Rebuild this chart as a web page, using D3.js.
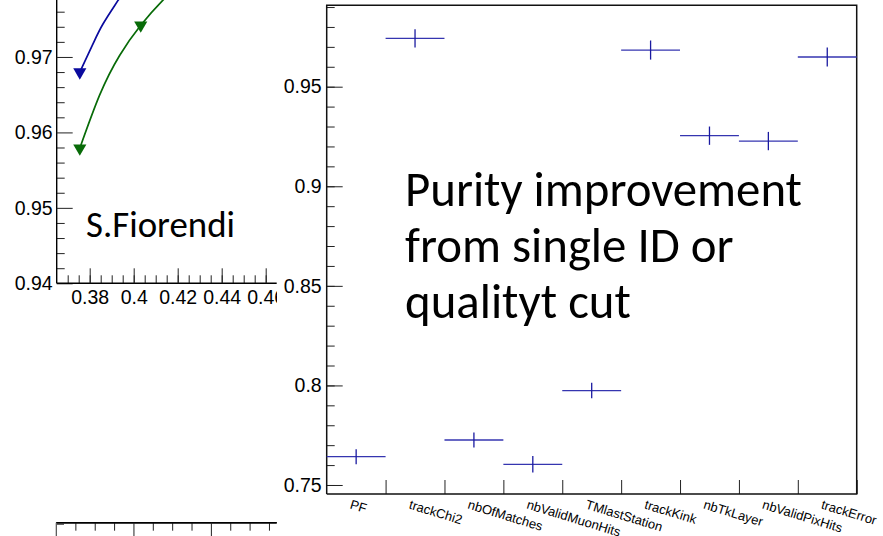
<!DOCTYPE html>
<html><head><meta charset="utf-8">
<script src="https://cdn.jsdelivr.net/npm/d3@7/dist/d3.min.js"></script>
<style>
html,body{margin:0;padding:0;background:#fff;}
svg{display:block;}
</style></head>
<body>
<svg id="c" width="883" height="536"></svg>
<script>
// ---------- data ----------
const categories = ["PF","trackChi2","nbOfMatches","nbValidMuonHits","TMlastStation","trackKink","nbTkLayer","nbValidPixHits","trackError"];
const purity = [0.7642,0.9743,0.7726,0.7604,0.7974,0.9684,0.9254,0.9227,0.9649];
const purityErr = [0.0038,0.0046,0.0038,0.0041,0.0039,0.0048,0.0046,0.0046,0.0048];
const rightYTicks = [0.75,0.8,0.85,0.9,0.95];
const rightYMinor = [0.75,0.76,0.77,0.78,0.79,0.8,0.81,0.82,0.83,0.84,0.85,0.86,0.87,0.88,0.89,0.9,0.91,0.92,0.93,0.94,0.95,0.96,0.97,0.98,0.99];

const blueCurveX = [0.3755,0.3816,0.3861,0.3929,0.3997];
const blueCurveY = [0.9680,0.9718,0.9744,0.9775,0.9806];
const greenCurveX = [0.3755,0.3846,0.3936,0.4032,0.4132,0.4232];
const greenCurveY = [0.9579,0.9650,0.9702,0.9742,0.9775,0.9803];
const blueMarkerX = [0.3755];
const blueMarkerY = [0.9680];
const greenMarkerX = [0.3755,0.4032];
const greenMarkerY = [0.9579,0.9742];
const leftXTicks = [0.38,0.40,0.42,0.44,0.46];
const leftXTickLabels = ["0.38","0.4","0.42","0.44","0.46"];
const leftXMinor = [0.37,0.375,0.38,0.385,0.39,0.395,0.40,0.405,0.41,0.415,0.42,0.425,0.43,0.435,0.44,0.445,0.45,0.455,0.46];
const leftYTicks = [0.94,0.95,0.96,0.97];
const leftYTickLabels = ["0.94","0.95","0.96","0.97"];
const leftYMinor = [0.942,0.944,0.946,0.948,0.952,0.954,0.956,0.958,0.962,0.964,0.966,0.968,0.972,0.974,0.976];
const lowerXMajor = [0.36,0.38,0.40];
const lowerXMinor = [0.365,0.37,0.375,0.385,0.39,0.395,0.405,0.41,0.415];

const annotation = ["Purity improvement","from single ID or","qualityt cut"];
const author = "S.Fiorendi";

// ---------- drawing ----------
const svg = d3.select("#c");
svg.append("rect").attr("width",883).attr("height",536).attr("fill","#fff");
const axisFont = "'Liberation Sans', Arial, Helvetica, sans-serif";
const bigFont = "Carlito, Lato, 'Open Sans', sans-serif";

// ===== left panel =====
const xL = d3.scaleLinear().domain([0.365,0.465]).range([56.7,276.7]);
const yL = d3.scaleLinear().domain([0.94,0.97755]).range([283.3,0]);
const gL = svg.append("g");
svg.append("defs").append("clipPath").attr("id","clipL")
  .append("rect").attr("x",56.7).attr("y",0).attr("width",220).attr("height",283.3);

const yMinorAx = gL.append("g").attr("transform","translate(56.7,0)")
  .call(d3.axisLeft(yL).tickValues(leftYMinor).tickSize(-8).tickFormat(""));
const yMajAx = gL.append("g").attr("transform","translate(56.7,0)")
  .call(d3.axisLeft(yL).tickValues(leftYTicks).tickSize(-16).tickPadding(4)
        .tickFormat((d,i)=>leftYTickLabels[i]));
const xMinorAx = gL.append("g").attr("transform","translate(0,283.3)")
  .call(d3.axisBottom(xL).tickValues(leftXMinor).tickSize(-8).tickFormat(""));
const xMajAx = gL.append("g").attr("transform","translate(0,283.3)")
  .call(d3.axisBottom(xL).tickValues(leftXTicks).tickSize(-15).tickPadding(7)
        .tickFormat((d,i)=>leftXTickLabels[i]));
[yMinorAx,yMajAx,xMinorAx,xMajAx].forEach(a=>{
  a.select(".domain").attr("stroke","#000").attr("stroke-width",1.4);
  a.selectAll(".tick line").attr("stroke","#222").attr("stroke-width",1);
  a.selectAll("text").attr("font-family",axisFont).attr("font-size",19.5).attr("fill","#000");
});
yMinorAx.select(".domain").remove(); xMinorAx.select(".domain").remove();
yMajAx.select(".domain").attr("d","M0,0V283.3");
xMajAx.select(".domain").attr("d","M56.7,0H276.7");

const lineL = d3.line().x(d=>xL(d[0])).y(d=>yL(d[1])).curve(d3.curveNatural);
const curves = gL.append("g").attr("clip-path","url(#clipL)");
curves.append("path").datum(blueCurveX.map((x,i)=>[x,blueCurveY[i]]))
  .attr("d",lineL).attr("fill","none").attr("stroke","#0a0a9e").attr("stroke-width",1.7);
curves.append("path").datum(greenCurveX.map((x,i)=>[x,greenCurveY[i]]))
  .attr("d",lineL).attr("fill","none").attr("stroke","#086b08").attr("stroke-width",1.7);
const tri = d3.symbol().type(d3.symbolTriangle).size(75);
curves.selectAll(".mb").data(blueMarkerX.map((x,i)=>[x,blueMarkerY[i]])).join("path")
  .attr("d",tri).attr("transform",d=>`translate(${xL(d[0])},${yL(d[1])}) rotate(180)`).attr("fill","#0a0a9e");
curves.selectAll(".mg").data(greenMarkerX.map((x,i)=>[x,greenMarkerY[i]])).join("path")
  .attr("d",tri).attr("transform",d=>`translate(${xL(d[0])},${yL(d[1])}) rotate(180)`).attr("fill","#086b08");

const authorText = gL.append("text").attr("x",86).attr("y",237).text(author)
  .attr("font-family",bigFont).attr("font-size",34).attr("fill","#000");
(function fit(t,w){const l=t.node().getComputedTextLength(); t.attr("font-size",34*w/l);})(authorText,149);

// ===== lower-left partial plot =====
const xLo = d3.scaleLinear().domain([0.36,0.417]).range([56,276.7]);
const gLo = svg.append("g").attr("transform","translate(0,522.7)");
const loMin = gLo.append("g").call(d3.axisBottom(xLo).tickValues(lowerXMinor).tickSize(8).tickFormat(""));
const loMaj = gLo.append("g").call(d3.axisBottom(xLo).tickValues(lowerXMajor).tickSize(16).tickFormat(""));
[loMin,loMaj].forEach(a=>{a.selectAll(".tick line").attr("stroke","#222");a.select(".domain").attr("stroke","#000").attr("stroke-width",1.4).attr("d","M56,0H276.7");});
gLo.append("line").attr("x1",56).attr("x2",64).attr("y1",1.5).attr("y2",1.5).attr("stroke","#222");
gLo.append("line").attr("x1",56).attr("x2",56).attr("y1",0).attr("y2",14).attr("stroke","#999");

// ===== right panel =====
svg.append("rect").attr("x",277).attr("y",0).attr("width",606).attr("height",536).attr("fill","#fff");
const gR = svg.append("g");
const x0 = 326.7, x1 = 856.7, yTop = 5.3, yBot = 494;
const xR = d3.scaleBand().domain(categories).range([x0,x1]).padding(0);
const xEdge = d3.scaleLinear().domain([0,categories.length]).range([x0,x1]);
const yR = d3.scaleLinear().domain([0.74548,0.99087]).range([yBot,yTop]);

const rYMin = gR.append("g").attr("transform",`translate(${x0},0)`)
  .call(d3.axisLeft(yR).tickValues(rightYMinor).tickSize(-8).tickFormat(""));
const rYMaj = gR.append("g").attr("transform",`translate(${x0},0)`)
  .call(d3.axisLeft(yR).tickValues(rightYTicks).tickSize(-16).tickPadding(5).tickFormat(d3.format("")));
const rX = gR.append("g").attr("transform",`translate(0,${yBot})`)
  .call(d3.axisBottom(xEdge).tickValues(d3.range(1,categories.length+1)).tickSize(-14).tickFormat(""));
[rYMin,rYMaj,rX].forEach(a=>{
  a.selectAll(".tick line").attr("stroke","#222").attr("stroke-width",1);
  a.selectAll("text").attr("font-family",axisFont).attr("font-size",19.5).attr("fill","#000");
  a.select(".domain").remove();
});
gR.append("path").attr("d",`M${x0},${yBot}V${yTop}H${x1}V${yBot}H${x0}`)
  .attr("fill","none").attr("stroke","#111").attr("stroke-width",1.5);

// category labels
gR.selectAll(".cl").data(categories).join("text")
  .attr("transform",d=>`translate(${xR(d)+xR.bandwidth()/2-4},${yBot+5}) rotate(17)`)
  .attr("dy","0.75em").attr("font-family",axisFont).attr("font-size",13).attr("fill","#000")
  .text(d=>d);

// points with error bars
const pts = gR.selectAll(".pt").data(categories).join("g");
pts.append("line").attr("x1",d=>xR(d)).attr("x2",d=>xR(d)+xR.bandwidth())
  .attr("y1",(d,i)=>yR(purity[i])).attr("y2",(d,i)=>yR(purity[i]))
  .attr("stroke","#3535b0").attr("stroke-width",1.3);
pts.append("line").attr("x1",d=>xR(d)+xR.bandwidth()/2).attr("x2",d=>xR(d)+xR.bandwidth()/2)
  .attr("y1",(d,i)=>yR(purity[i]+purityErr[i])).attr("y2",(d,i)=>yR(purity[i]-purityErr[i]))
  .attr("stroke","#1a1aa0").attr("stroke-width",1.3);

// annotation
const ann = gR.append("text").attr("font-family",bigFont).attr("font-size",40).attr("fill","#000");
ann.selectAll("tspan").data(annotation).join("tspan")
  .attr("x",405).attr("y",(d,i)=>205.5+i*56).text(d=>d);
(function(){const l=ann.select("tspan").node().getComputedTextLength(); ann.attr("font-size",40*397/l);})();
</script>
</body></html>
